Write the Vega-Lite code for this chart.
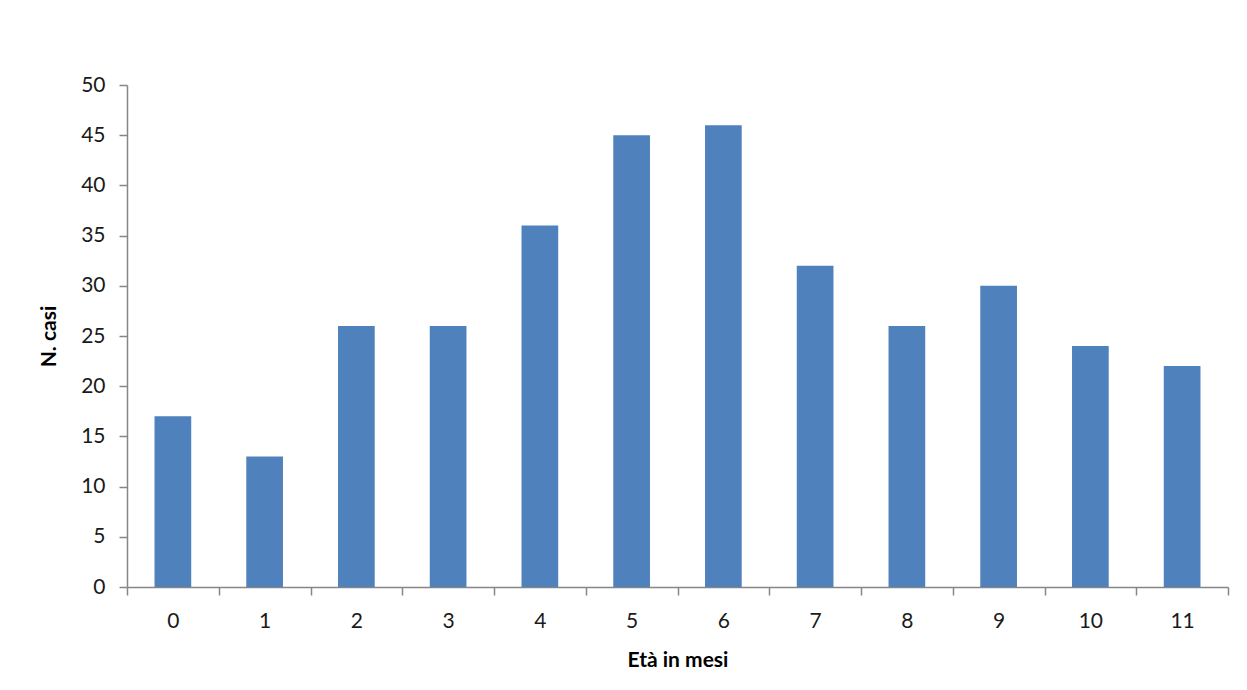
{
  "$schema": "https://vega.github.io/schema/vega-lite/v6.json",
  "width": 1101,
  "height": 502,
  "autosize": {"type": "none"},
  "padding": {"left": 127, "top": 85, "right": 19, "bottom": 103},
  "background": "white",
  "data": {"values": [
    {"eta": "0", "casi": 17},
    {"eta": "1", "casi": 13},
    {"eta": "2", "casi": 26},
    {"eta": "3", "casi": 26},
    {"eta": "4", "casi": 36},
    {"eta": "5", "casi": 45},
    {"eta": "6", "casi": 46},
    {"eta": "7", "casi": 32},
    {"eta": "8", "casi": 26},
    {"eta": "9", "casi": 30},
    {"eta": "10", "casi": 24},
    {"eta": "11", "casi": 22}
  ]},
  "mark": {"type": "bar", "color": "#4F81BD", "width": {"band": 0.4}},
  "encoding": {
    "x": {
      "field": "eta", "type": "ordinal", "sort": null,
      "scale": {"paddingInner": 0, "paddingOuter": 0},
      "axis": {"title": "Età in mesi", "labelAngle": 0, "tickBand": "extent", "tickSize": 8, "labelPadding": 15, "titlePadding": 18, "domainColor": "#868686", "tickColor": "#868686", "domainWidth": 1.5, "tickWidth": 1.5}
    },
    "y": {
      "field": "casi", "type": "quantitative",
      "scale": {"domain": [0, 50]},
      "axis": {"title": "N. casi", "values": [0,5,10,15,20,25,30,35,40,45,50], "grid": false, "tickSize": 8, "labelPadding": 14, "titlePadding": 21, "domainColor": "#868686", "tickColor": "#868686", "domainWidth": 1.5, "tickWidth": 1.5}
    }
  },
  "config": {
    "view": {"stroke": null},
    "axis": {"labelFont": "Lato", "labelFontSize": 21, "labelColor": "#1a1a1a", "titleFont": "Lato", "titleFontSize": 21, "titleFontWeight": "bold", "titleColor": "#000000"}
  }
}
